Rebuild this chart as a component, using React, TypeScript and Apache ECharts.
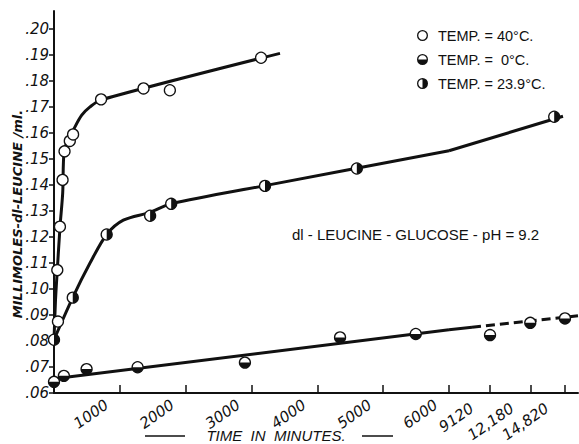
import React, { useEffect, useRef } from 'react';
import * as echarts from 'echarts';

// ---- tick values / labels ----
const yTicks = [0.06, 0.07, 0.08, 0.09, 0.10, 0.11, 0.12, 0.13, 0.14, 0.15, 0.16, 0.17, 0.18, 0.19, 0.20];
const breakTicks = [9120, 12180, 14820];
const breakTickLabels = ['9120', '12,180', '14,820'];

// ---- series names ----
const name40 = 'TEMP. = 40°C.';
const name0 = 'TEMP. =  0°C.';
const name239 = 'TEMP. = 23.9°C.';

// ---- observed points [minutes, millimoles/ml] ----
const points40: number[][] = [
  [60, 0.0875], [50, 0.1073], [90, 0.124], [130, 0.142], [160, 0.153], [240, 0.157],
  [290, 0.1595], [715, 0.173], [1360, 0.1772], [1760, 0.1765], [3145, 0.189],
];
const points0: number[][] = [
  [0, 0.0643], [150, 0.0666], [495, 0.0692], [1270, 0.0699], [2900, 0.0717],
  [4345, 0.0814], [5495, 0.0827], [9120, 0.0823], [12180, 0.087], [14820, 0.0887],
];
const points239: number[][] = [
  [0, 0.0805], [285, 0.0967], [800, 0.121], [1460, 0.1282], [1780, 0.1328],
  [3205, 0.1397], [4600, 0.1464], [14000, 0.1663],
];

// ---- hand-drawn fitted curves ----
const curve40: number[][] = [
  [0, 0.0805], [23, 0.0958], [50, 0.1073], [91, 0.1238], [132, 0.1369], [156, 0.1535],
  [243, 0.1586], [293, 0.1612], [421, 0.1669], [547, 0.1701], [714, 0.1728], [3433, 0.1907],
];
const curve239: number[][] = [
  [0, 0.0805], [284, 0.0967], [547, 0.110], [800, 0.121], [1053, 0.1265], [1458, 0.1295],
  [1777, 0.1328], [3205, 0.1398], [6000, 0.1532], [14669, 0.1665],
];
const curve0Solid: number[][] = [[0, 0.0655], [6000, 0.0843], [7750, 0.0853]];
const curve0Dashed: number[][] = [[7750, 0.0853], [15810, 0.0897]];

const BREAK = 6000;
const mainPart = (a: number[][]) => a.filter((d) => d[0] <= BREAK);
const breakPart = (a: number[][]) => a.filter((d) => d[0] >= BREAK);

const ICON_OPEN =
  'path://M0,10A10,10,0,1,1,20,10A10,10,0,1,1,0,10ZM2.4,10A7.6,7.6,0,1,0,17.6,10A7.6,7.6,0,1,0,2.4,10Z';
const ICON_BOTTOM = ICON_OPEN + 'M20,10A10,10,0,0,1,0,10Z';
const ICON_RIGHT = ICON_OPEN + 'M10,0A10,10,0,0,1,10,20Z';

const INK = '#111';

function pointSeries(name: string, data: number[][], grid: number, kind: 'open' | 'bottom' | 'right') {
  return {
    type: 'custom',
    name,
    xAxisIndex: grid,
    yAxisIndex: grid,
    z: 5,
    clip: false,
    itemStyle: { color: INK },
    encode: { x: 0, y: 1 },
    data,
    renderItem: (_params: any, api: any) => {
      const p = api.coord([api.value(0), api.value(1)]);
      const r = 5.5;
      const children: any[] = [
        { type: 'circle', shape: { cx: p[0], cy: p[1], r }, style: { fill: '#fff', stroke: INK, lineWidth: 1.3 } },
      ];
      if (kind === 'bottom') {
        children.push({
          type: 'sector',
          shape: { cx: p[0], cy: p[1], r0: 0, r, startAngle: 0, endAngle: Math.PI, clockwise: true },
          style: { fill: INK },
        });
      } else if (kind === 'right') {
        children.push({
          type: 'sector',
          shape: { cx: p[0], cy: p[1], r0: 0, r, startAngle: -Math.PI / 2, endAngle: Math.PI / 2, clockwise: true },
          style: { fill: INK },
        });
      }
      return { type: 'group', children };
    },
  };
}

function lineSeries(data: number[][], grid: number, smooth: number, dashed = false) {
  return {
    type: 'line',
    xAxisIndex: grid,
    yAxisIndex: grid,
    data,
    symbol: 'none',
    showSymbol: false,
    smooth,
    z: 2,
    silent: true,
    lineStyle: { color: INK, width: 3, type: dashed ? [9, 5] : 'solid' },
  };
}

const tickFont = { fontFamily: 'DejaVu Sans', fontStyle: 'italic', fontSize: 15, color: INK };

export default function App() {
  const ref = useRef<HTMLDivElement>(null);
  useEffect(() => {
    if (!ref.current) return;
    const chart = echarts.init(ref.current, null, { renderer: 'svg' });
    const yMin = 0.06;
    const yMax = 0.207;
    const commonXAxis = {
      type: 'value',
      splitLine: { show: false },
      axisLine: { show: true, lineStyle: { color: INK, width: 2 } },
    };
    chart.setOption({
      animation: false,
      backgroundColor: '#fff',
      grid: [
        { left: 54, top: 11, width: 395, height: 382, outerBoundsMode: 'none', containLabel: false },
        { left: 449, top: 11, width: 129, height: 382, outerBoundsMode: 'none', containLabel: false },
      ],
      xAxis: [
        {
          ...commonXAxis,
          gridIndex: 0,
          min: 0,
          max: 6000,
          interval: 1000,
          axisTick: { show: true, inside: true, length: 8, lineStyle: { color: INK, width: 1.5 } },
          axisLabel: {
            ...tickFont,
            rotate: 35,
            interval: 0,
            margin: 1,
            padding: [0, 16, 0, 0],
            formatter: (v: number) => (v === 0 ? '' : String(v)),
          },
        },
        {
          ...commonXAxis,
          gridIndex: 1,
          min: BREAK,
          max: 15810,
          axisTick: { show: true, inside: true, length: 8, customValues: breakTicks, lineStyle: { color: INK, width: 1.5 } },
          axisLabel: {
            ...tickFont,
            rotate: 35,
            margin: 1,
            padding: [0, 22, 0, 0],
            customValues: breakTicks,
            formatter: (v: number) => {
              const i = breakTicks.indexOf(v);
              return i >= 0 ? breakTickLabels[i] : '';
            },
          },
        },
      ],
      yAxis: [
        {
          type: 'value',
          gridIndex: 0,
          min: yMin,
          max: yMax,
          splitLine: { show: false },
          axisLine: { show: true, lineStyle: { color: INK, width: 2 } },
          axisTick: { show: true, length: 5, customValues: yTicks, lineStyle: { color: INK, width: 1.5 } },
          axisLabel: {
            ...tickFont,
            margin: 5,
            customValues: yTicks,
            formatter: (v: number) => '.' + String(Math.round(v * 100)).padStart(2, '0'),
          },
        },
        { type: 'value', gridIndex: 1, min: yMin, max: yMax, show: false },
      ],
      legend: {
        orient: 'vertical',
        left: 412,
        top: 23,
        itemWidth: 11,
        itemHeight: 11,
        itemGap: 9,
        selectedMode: false,
        textStyle: { fontFamily: 'Liberation Sans', fontSize: 14.5, color: INK, padding: [0, 0, 0, 5] },
        data: [
          { name: name40, icon: ICON_OPEN },
          { name: name0, icon: ICON_BOTTOM },
          { name: name239, icon: ICON_RIGHT },
        ],
      },
      graphic: [
        {
          type: 'text',
          x: 17,
          y: 214,
          rotation: Math.PI / 2,
          style: {
            text: 'MILLIMOLES-dl-LEUCINE /ml.',
            font: 'italic bold 13px "DejaVu Sans"',
            fill: INK,
            align: 'center',
            verticalAlign: 'middle',
          },
        },
        {
          type: 'text',
          left: 292,
          top: 227,
          style: { text: 'dl - LEUCINE - GLUCOSE - pH = 9.2', font: '15px "Liberation Sans"', fill: INK },
        },
        {
          type: 'text',
          x: 276,
          y: 435,
          style: {
            text: 'TIME  IN  MINUTES.',
            font: 'italic 15px "Liberation Sans"',
            fill: INK,
            align: 'center',
            verticalAlign: 'middle',
          },
        },
        { type: 'line', shape: { x1: 145, y1: 436, x2: 185, y2: 436 }, style: { stroke: INK, lineWidth: 1.5 } },
        { type: 'line', shape: { x1: 362, y1: 436, x2: 393, y2: 436 }, style: { stroke: INK, lineWidth: 1.5 } },
      ],
      series: [
        lineSeries(mainPart(curve40), 0, 0.3),
        lineSeries(mainPart(curve239), 0, 0.3),
        lineSeries(breakPart(curve239), 1, 0),
        lineSeries(mainPart(curve0Solid), 0, 0),
        lineSeries(breakPart(curve0Solid), 1, 0),
        lineSeries(curve0Dashed, 1, 0, true),
        pointSeries(name40, mainPart(points40), 0, 'open'),
        pointSeries(name0, mainPart(points0), 0, 'bottom'),
        pointSeries(name0, breakPart(points0), 1, 'bottom'),
        pointSeries(name239, mainPart(points239), 0, 'right'),
        pointSeries(name239, breakPart(points239), 1, 'right'),
      ],
    });
    return () => chart.dispose();
  }, []);
  return <div ref={ref} style={{ position: 'fixed', left: 0, top: 0, width: 579, height: 444 }} />;
}
